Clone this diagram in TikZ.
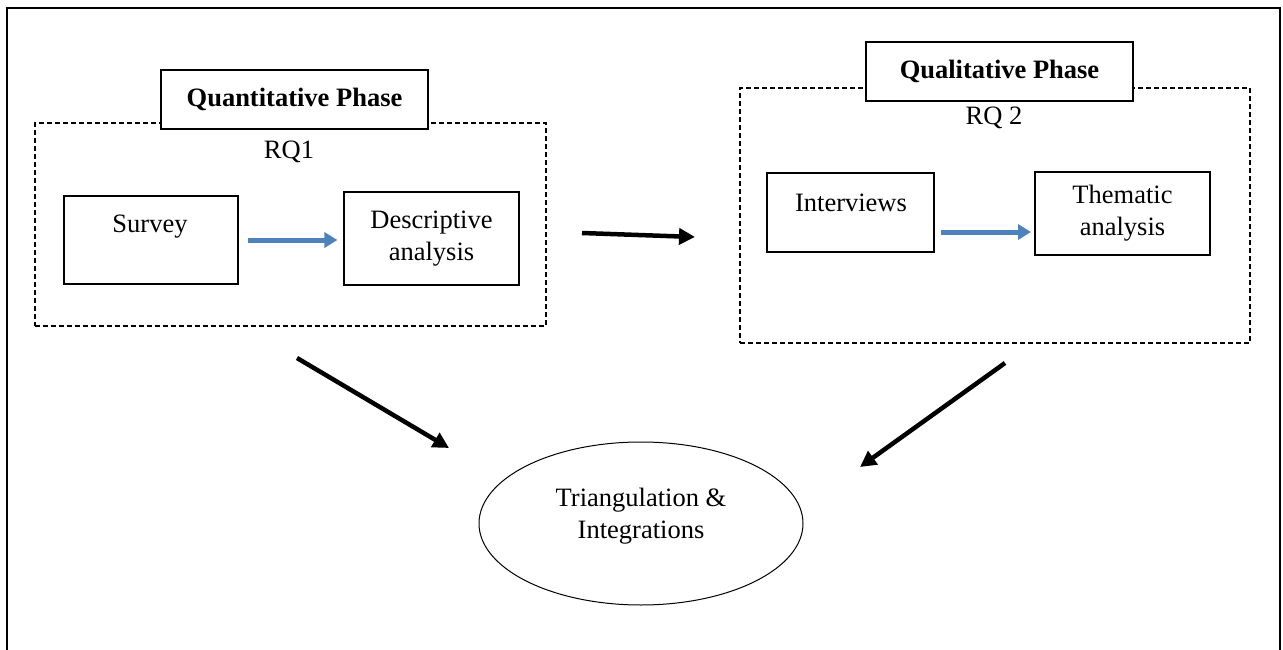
\documentclass[tikz,border=0pt]{standalone}
\usepackage{fontspec}
\setmainfont{Liberation Serif}
\usetikzlibrary{arrows.meta,shapes.geometric}
\definecolor{arrowblue}{RGB}{79,129,189}
\begin{document}
\begin{tikzpicture}[x=1pt,y=-1pt,
  font=\fontsize{26.5}{32}\selectfont,
  box/.style={draw, line width=1.2pt, inner sep=0pt, fill=white, align=center},
  group/.style={draw, dash pattern=on 5pt off 3pt, line width=1.5pt, inner sep=0pt},
  bluearrow/.style={draw=arrowblue, line width=5pt, -{Triangle[length=13pt,width=15pt]}},
  bigarrow/.style={draw=black, line width=4.5pt, -{Triangle[length=16pt,width=16pt]}},
  lbl/.style={inner sep=0pt, align=center}
  ]
\useasboundingbox (0,0) rectangle (1283,650);
\clip (0,0) rectangle (1283,650);
\draw[line width=2.5pt] (7,8) rectangle (1280,670);

% Quantitative phase
\node[group, minimum width=511pt, minimum height=203pt] (g1) at (290.5,224.5) {};
\node[box, minimum width=267pt, minimum height=59pt, font=\fontsize{26.5}{32}\selectfont\bfseries] (p1) at (294.5,99.5) {Quantitative Phase};
\node[lbl] (rq1) at (289,152) {RQ1};
\node[box, minimum width=174pt, minimum height=88pt] (survey) at (151,240) {};
\node[lbl] (surveyt) at (150,227) {Survey};
\node[box, minimum width=175pt, minimum height=93pt] (desc) at (431.5,238.5) {Descriptive\\analysis};
\draw[bluearrow, shorten <=9pt, shorten >=6pt] (survey.east |- 0,240) -- (desc.west |- 0,240);

% Qualitative phase
\node[group, minimum width=510pt, minimum height=255pt] (g2) at (995,215.5) {};
\node[box, minimum width=267pt, minimum height=59pt, font=\fontsize{26.5}{32}\selectfont\bfseries] (p2) at (999.5,71.5) {Qualitative Phase};
\node[lbl] (rq2) at (994,118) {RQ 2};
\node[box, minimum width=167pt, minimum height=79pt] (interv) at (850.5,212.5) {};
\node[lbl] (intervt) at (851,203) {Interviews};
\node[box, line width=2pt, minimum width=175pt, minimum height=83pt] (them) at (1122.5,213.5) {Thematic\\analysis};
\draw[bluearrow, shorten <=6pt, shorten >=3pt] (interv.east |- 0,232) -- (them.west |- 0,232);

% Integration
\node[draw, ellipse, line width=1pt, inner sep=0pt, minimum width=324pt, minimum height=163pt] (tri) at (641,523.5) {};
\node[lbl] (trit) at (641,516) {Triangulation \&\\Integrations};

% Big arrows
\coordinate (m1) at (582,233);
\coordinate (m2) at (695,237);
\draw[bigarrow] (m1) -- (m2);
\coordinate (l1) at (297,358);
\coordinate (l2) at (449,448);
\draw[bigarrow] (l1) -- (l2);
\coordinate (r1) at (1005,363);
\coordinate (r2) at (860,467);
\draw[bigarrow] (r1) -- (r2);
\end{tikzpicture}
\end{document}
